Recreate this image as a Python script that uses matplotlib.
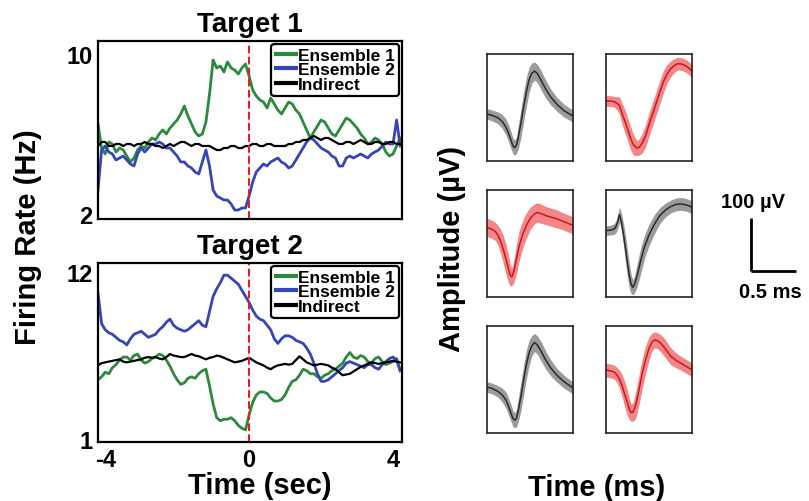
import matplotlib
matplotlib.use("Agg")
import matplotlib.pyplot as plt
import numpy as np

plt.rcParams['font.family'] = ['Liberation Sans', 'DejaVu Sans']
plt.rcParams['font.weight'] = 'bold'

# time axis of the firing rate traces (sec)
t_rate = [-4.2, -4.1, -4.0, -3.9, -3.8, -3.7, -3.6, -3.5, -3.4, -3.3,
          -3.2, -3.1, -3.0, -2.9, -2.8, -2.7, -2.6, -2.5, -2.4, -2.3,
          -2.2, -2.1, -2.0, -1.9, -1.8, -1.7, -1.6, -1.5, -1.4, -1.3,
          -1.2, -1.1, -1.0, -0.9, -0.8, -0.7, -0.6, -0.5, -0.4, -0.3,
          -0.2, -0.1, 0.0, 0.1, 0.2, 0.3, 0.4, 0.5, 0.6, 0.7,
          0.8, 0.9, 1.0, 1.1, 1.2, 1.3, 1.4, 1.5, 1.6, 1.7,
          1.8, 1.9, 2.0, 2.1, 2.2, 2.3, 2.4, 2.5, 2.6, 2.7,
          2.8, 2.9, 3.0, 3.1, 3.2, 3.3, 3.4, 3.5, 3.6, 3.7,
          3.8, 3.9, 4.0, 4.1, 4.2]

# Target 1 (Hz)
t1_ens1 = [6.5, 5.3, 5.0, 5.6, 5.5, 5.1, 5.3, 5.2, 4.9, 4.6,
           4.8, 5.2, 5.4, 5.3, 5.6, 5.8, 5.7, 6.0, 6.2, 6.0,
           6.3, 6.5, 6.7, 7.0, 7.4, 6.9, 6.5, 6.1, 5.9, 6.0,
           6.6, 8.0, 9.7, 9.3, 9.4, 9.1, 9.6, 9.3, 9.2, 9.0,
           9.3, 9.5, 8.9, 8.2, 7.9, 7.7, 7.6, 7.3, 7.8, 7.5,
           7.2, 7.0, 7.3, 7.6, 7.5, 7.2, 7.0, 6.6, 6.2, 5.8,
           6.1, 6.4, 6.7, 6.6, 6.3, 6.0, 5.9, 6.2, 6.5, 6.8,
           6.7, 6.5, 6.3, 6.0, 5.8, 5.5, 5.6, 5.8, 5.7, 5.5,
           5.1, 4.9, 5.0, 5.4, 5.8]
t1_ens2 = [3.2, 5.2, 5.4, 5.1, 5.0, 4.7, 4.8, 4.9, 4.7, 4.5,
           4.4, 5.0, 5.3, 5.1, 5.3, 5.5, 5.5, 5.6, 5.5, 5.3,
           5.3, 5.1, 4.9, 4.6, 4.6, 4.4, 4.3, 4.1, 4.0, 4.6,
           5.2, 4.4, 3.2, 2.9, 2.8, 2.7, 2.7, 2.5, 2.2, 2.2,
           2.3, 2.3, 2.9, 3.6, 4.1, 4.3, 4.5, 4.4, 4.6, 4.7,
           4.8, 4.6, 4.5, 4.3, 4.4, 4.7, 5.0, 5.3, 5.6, 5.8,
           5.7, 5.5, 5.3, 5.2, 5.1, 4.9, 4.8, 4.4, 4.4, 4.8,
           4.9, 4.8, 4.9, 5.0, 4.9, 4.8, 5.0, 5.1, 5.2, 5.4,
           5.6, 5.5, 5.5, 6.7, 5.4]
t1_indirect = [5.4, 5.6, 5.6, 5.4, 5.4, 5.5, 5.5, 5.4, 5.5, 5.5,
               5.4, 5.5, 5.5, 5.6, 5.5, 5.5, 5.4, 5.4, 5.3, 5.4,
               5.5, 5.4, 5.5, 5.6, 5.6, 5.5, 5.4, 5.5, 5.5, 5.4,
               5.4, 5.4, 5.3, 5.2, 5.2, 5.3, 5.3, 5.4, 5.4, 5.3,
               5.3, 5.4, 5.4, 5.5, 5.5, 5.4, 5.4, 5.5, 5.5, 5.4,
               5.4, 5.4, 5.4, 5.5, 5.5, 5.6, 5.6, 5.7, 5.7, 5.8,
               5.9, 5.8, 5.7, 5.8, 5.8, 5.7, 5.6, 5.5, 5.5, 5.6,
               5.6, 5.5, 5.6, 5.7, 5.6, 5.5, 5.5, 5.6, 5.6, 5.5,
               5.5, 5.6, 5.6, 5.5, 5.5]

# Target 2 (Hz)
t2_ens1 = [4.9, 5.1, 5.4, 5.3, 5.7, 5.9, 6.2, 6.4, 6.4, 6.2,
           6.5, 6.6, 6.2, 6.0, 6.1, 6.3, 6.4, 6.6, 6.5, 6.2,
           5.8, 5.3, 4.9, 4.6, 4.7, 5.0, 5.1, 5.0, 5.3, 5.5,
           5.6, 4.5, 3.3, 2.4, 2.2, 2.3, 2.3, 2.4, 2.2, 1.9,
           1.7, 1.6, 2.6, 3.4, 3.9, 4.1, 4.1, 4.0, 3.7, 3.5,
           3.5, 3.6, 3.9, 4.4, 4.8, 4.9, 5.2, 5.6, 5.5, 5.3,
           5.3, 5.1, 5.0, 5.2, 5.3, 5.5, 5.6, 5.8, 6.0, 6.4,
           6.7, 6.4, 6.3, 6.5, 6.4, 6.1, 6.0, 6.3, 6.4, 6.1,
           5.9, 6.0, 6.1, 6.3, 5.5]
t2_ens2 = [10.6, 8.6, 8.2, 8.0, 7.9, 7.7, 7.5, 7.4, 7.2, 7.6,
           7.9, 8.0, 8.1, 7.9, 7.7, 7.8, 7.9, 8.2, 8.4, 8.7,
           8.9, 8.5, 8.3, 8.2, 8.1, 8.2, 8.4, 8.6, 8.8, 8.5,
           8.4, 9.4, 10.4, 10.9, 11.3, 11.8, 11.8, 11.6, 11.4, 11.2,
           10.8, 10.4, 10.0, 9.5, 9.1, 8.9, 8.8, 8.5, 8.2, 7.6,
           7.3, 7.6, 7.8, 7.8, 7.7, 7.5, 7.4, 7.3, 7.0, 6.6,
           6.0, 5.3, 4.8, 4.8, 4.9, 5.1, 5.3, 5.5, 5.7, 6.0,
           6.1, 6.0, 5.9, 5.8, 5.7, 5.9, 5.9, 5.7, 5.6, 5.9,
           6.1, 6.3, 6.4, 6.2, 5.5]
t2_indirect = [5.85, 6.0, 6.05, 6.1, 6.15, 6.2, 6.25, 6.1, 6.05, 6.1,
               6.15, 6.2, 6.25, 6.35, 6.4, 6.35, 6.4, 6.3, 6.25, 6.4,
               6.6, 6.5, 6.45, 6.4, 6.4, 6.5, 6.6, 6.5, 6.45, 6.35,
               6.25, 6.35, 6.4, 6.5, 6.45, 6.35, 6.25, 6.15, 6.05, 6.1,
               6.15, 6.25, 6.35, 6.2, 6.05, 5.95, 5.85, 5.7, 5.6, 5.75,
               5.85, 5.9, 5.95, 5.9, 5.95, 6.2, 6.45, 6.25, 6.05, 5.95,
               5.85, 5.9, 5.95, 5.9, 5.85, 5.7, 5.6, 5.4, 5.2, 5.25,
               5.3, 5.45, 5.6, 5.75, 5.85, 5.95, 6.05, 6.0, 5.95, 6.0,
               6.05, 6.1, 6.15, 6.1, 6.05]

# spike waveforms: time (ms), mean (uV), half band (uV)
w1_t = [0.00, 0.06, 0.12, 0.17, 0.21, 0.24, 0.27, 0.29, 0.31, 0.33, 0.35, 0.38,
        0.41, 0.44, 0.47, 0.50, 0.53, 0.56, 0.60, 0.65, 0.71, 0.78, 0.86, 0.96]
w1_v = [-12, -15, -19, -26, -36, -48, -62, -72, -75, -70, -55, -28,
        2, 30, 52, 64, 68, 64, 52, 36, 20, 6, -6, -16]
w1_sd = [10, 10, 11, 13, 15, 16, 16, 15, 14, 16, 22, 27,
         28, 27, 24, 19, 17, 17, 18, 17, 15, 13, 12, 11]

w2_t = [0.00, 0.05, 0.09, 0.12, 0.15, 0.18, 0.21, 0.24, 0.27, 0.30, 0.33, 0.35, 0.37,
        0.40, 0.44, 0.48, 0.52, 0.56, 0.60, 0.64, 0.68, 0.72, 0.76, 0.80, 0.85, 0.90, 0.96]
w2_v = [12, 12, 11, 8, 4, -12, -25, -40, -55, -68, -74, -76, -74,
        -68, -54, -32, -12, 8, 28, 48, 62, 72, 78, 82, 81, 77, 68]
w2_sd = [10, 10, 10, 12, 16, 20, 22, 22, 22, 20, 16, 14, 15,
         18, 21, 22, 22, 22, 22, 21, 18, 15, 13, 12, 12, 12, 12]

w3_t = [0.00, 0.05, 0.09, 0.12, 0.15, 0.18, 0.21, 0.24, 0.26, 0.28, 0.30, 0.33, 0.36,
        0.40, 0.44, 0.48, 0.52, 0.56, 0.60, 0.66, 0.72, 0.78, 0.84, 0.90, 0.96]
w3_v = [30, 27, 23, 16, 5, -10, -28, -48, -60, -62, -52, -28, -4,
        18, 34, 46, 54, 58, 56, 52, 49, 46, 42, 38, 34]
w3_sd = [17, 17, 17, 18, 22, 26, 28, 26, 20, 16, 22, 28, 28,
         26, 24, 21, 19, 18, 18, 17, 17, 17, 16, 16, 16]

w4_t = [0.00, 0.05, 0.09, 0.11, 0.13, 0.15, 0.17, 0.20, 0.23, 0.26, 0.28, 0.30, 0.32,
        0.35, 0.39, 0.43, 0.48, 0.54, 0.60, 0.66, 0.72, 0.78, 0.84, 0.90, 0.96]
w4_v = [24, 25, 27, 31, 40, 54, 42, 12, -26, -60, -76, -82, -76,
        -58, -30, -6, 16, 36, 52, 62, 69, 73, 74, 72, 68]
w4_sd = [9, 9, 10, 11, 13, 14, 16, 22, 26, 24, 18, 14, 16,
         22, 24, 22, 20, 18, 15, 13, 12, 12, 12, 12, 12]

w5_t = [0.00, 0.06, 0.12, 0.17, 0.21, 0.24, 0.27, 0.29, 0.31, 0.33, 0.35, 0.38,
        0.41, 0.44, 0.47, 0.50, 0.53, 0.56, 0.60, 0.65, 0.71, 0.78, 0.86, 0.96]
w5_v = [-14, -17, -22, -29, -38, -50, -64, -73, -76, -72, -57, -30,
        0, 28, 50, 63, 69, 65, 54, 38, 22, 8, -4, -16]
w5_sd = [10, 10, 11, 13, 15, 16, 16, 15, 14, 16, 22, 27,
         28, 27, 24, 19, 17, 17, 18, 17, 15, 13, 12, 11]

w6_t = [0.00, 0.05, 0.09, 0.12, 0.15, 0.18, 0.21, 0.24, 0.26, 0.28, 0.30, 0.32, 0.34,
        0.37, 0.40, 0.44, 0.48, 0.51, 0.54, 0.57, 0.61, 0.66, 0.72, 0.78, 0.84, 0.90, 0.96]
w6_v = [18, 16, 14, 9, 1, -12, -28, -44, -55, -62, -61, -54, -42,
        -18, 8, 36, 58, 69, 74, 73, 68, 58, 44, 36, 30, 24, 18]
w6_sd = [13, 13, 13, 14, 17, 21, 24, 24, 20, 16, 17, 22, 26,
         28, 28, 26, 22, 17, 15, 15, 16, 17, 16, 14, 13, 13, 13]

GREEN = '#2b8a3c'
BLUE = '#3546b8'
GRAY_LINE, GRAY_BAND = '#2a2a2a', '#8a8a8a'
RED_LINE, RED_BAND = '#d0141c', '#f07272'

W, H = 809, 502
fig = plt.figure(figsize=(W / 100, H / 100), dpi=100)


def px_axes(x0, y0, x1, y1):
    # axes from pixel box (top-left origin)
    return fig.add_axes([x0 / W, 1 - y1 / H, (x1 - x0) / W, (y1 - y0) / H])


def rate_panel(ax, e1, e2, ind, ylim, yticks, title, show_x):
    ax.plot(t_rate, e1, color=GREEN, lw=2.0, label='Ensemble 1')
    ax.plot(t_rate, e2, color=BLUE, lw=2.0, label='Ensemble 2')
    ax.plot(t_rate, ind, color='black', lw=1.6, label='Indirect')
    ax.axvline(0, color='#e02020', ls='--', lw=1.5)
    ax.set_xlim(-4.2, 4.25)
    ax.set_ylim(*ylim)
    ax.set_yticks(yticks)
    ax.set_yticklabels([str(v) for v in yticks])
    ax.tick_params(length=0, labelsize=17, pad=4)
    if show_x:
        ax.set_xticks([-4, 0, 4])
        ax.set_xticklabels(['-4', '0', '4'])
    else:
        ax.set_xticks([])
    for s in ax.spines.values():
        s.set_linewidth(1.6)
    ax.set_title(title, fontsize=20, fontweight='bold', pad=7)
    leg = ax.legend(loc='upper right', fontsize=12.5, frameon=True, fancybox=True,
                    handlelength=1.2, handletextpad=0.1, labelspacing=-0.05,
                    borderpad=0.25, borderaxespad=0.15, framealpha=1)
    leg.get_frame().set_edgecolor('black')
    leg.get_frame().set_linewidth(1.6)
    for line in leg.get_lines():
        line.set_linewidth(3)


ax1 = px_axes(98, 42, 402, 220)
rate_panel(ax1, t1_ens1, t1_ens2, t1_indirect, (1.75, 10.65), [2, 10], 'Target 1', False)
ax2 = px_axes(98, 264, 402, 443)
rate_panel(ax2, t2_ens1, t2_ens2, t2_indirect, (0.8, 12.6), [1, 12], 'Target 2', True)

fig.text(28 / W, 1 - 237 / H, 'Firing Rate (Hz)', rotation=90, fontsize=21,
         fontweight='bold', ha='center', va='center')
fig.text(260 / W, 1 - 486 / H, 'Time (sec)', fontsize=21, fontweight='bold',
         ha='center', va='center')

# waveform grid
waves = [
    (w1_t, w1_v, w1_sd, GRAY_LINE, GRAY_BAND),
    (w2_t, w2_v, w2_sd, RED_LINE, RED_BAND),
    (w3_t, w3_v, w3_sd, RED_LINE, RED_BAND),
    (w4_t, w4_v, w4_sd, GRAY_LINE, GRAY_BAND),
    (w5_t, w5_v, w5_sd, GRAY_LINE, GRAY_BAND),
    (w6_t, w6_v, w6_sd, RED_LINE, RED_BAND),
]
cols = [(487, 573), (606, 692)]
rows = [(55, 162), (191, 298), (327, 434)]
for i, (t, v, sd, lc, bc) in enumerate(waves):
    r, c = divmod(i, 2)
    ax = px_axes(cols[c][0], rows[r][0], cols[c][1], rows[r][1])
    t = np.array(t)
    v = np.array(v)
    sd = np.array(sd)
    ax.fill_between(t, v - sd, v + sd, color=bc, alpha=0.85, lw=0)
    ax.plot(t, v, color=lc, lw=1.1)
    ax.set_xlim(0, 0.96)
    ax.set_ylim(-100, 100)
    ax.set_xticks([])
    ax.set_yticks([])
    for s in ax.spines.values():
        s.set_linewidth(1.2)
        s.set_color('#222222')

# scale bar in same units as the waveform boxes
sb = px_axes(751, 272 - 107, 751 + 86, 272)
sb.set_xlim(0, 0.96)
sb.set_ylim(-100, 100)
sb.plot([0, 0], [-100, 0], color='black', lw=2, clip_on=False, solid_capstyle='butt')
sb.plot([0, 0.5], [-100, -100], color='black', lw=2, clip_on=False, solid_capstyle='butt')
sb.axis('off')
fig.text(753 / W, 1 - 203 / H, '100 µV', fontsize=14.5, fontweight='bold',
         ha='center', va='center')
fig.text(770 / W, 1 - 293 / H, '0.5 ms', fontsize=14.5, fontweight='bold',
         ha='center', va='center')

fig.text(452 / W, 1 - 249 / H, 'Amplitude (µV)', rotation=90, fontsize=21,
         fontweight='bold', ha='center', va='center')
fig.text(597 / W, 1 - 488 / H, 'Time (ms)', fontsize=21, fontweight='bold',
         ha='center', va='center')

fig.savefig('out.png', dpi=100)
